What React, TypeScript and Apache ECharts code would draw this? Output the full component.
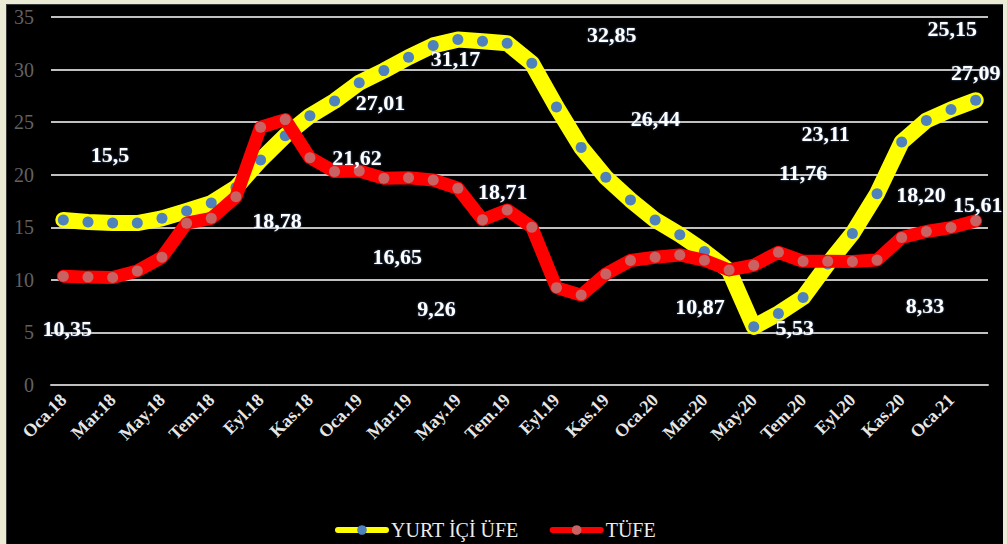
import React, { useEffect, useRef } from "react";
import * as echarts from "echarts";

const categories = [
  "Oca.18", "Şub.18", "Mar.18", "Nis.18", "May.18", "Haz.18", "Tem.18", "Ağu.18", "Eyl.18", "Eki.18", "Kas.18", "Ara.18",
  "Oca.19", "Şub.19", "Mar.19", "Nis.19", "May.19", "Haz.19", "Tem.19", "Ağu.19", "Eyl.19", "Eki.19", "Kas.19", "Ara.19",
  "Oca.20", "Şub.20", "Mar.20", "Nis.20", "May.20", "Haz.20", "Tem.20", "Ağu.20", "Eyl.20", "Eki.20", "Kas.20", "Ara.20",
  "Oca.21", "Şub.21",
];

const yurtIciUfe = [
  15.7, 15.5, 15.4, 15.4, 15.85, 16.55, 17.3, 18.78, 21.4, 23.7, 25.6, 27.01,
  28.75, 29.9, 31.17, 32.3, 32.85, 32.7, 32.5, 30.6, 26.44, 22.6, 19.75, 17.6,
  15.7, 14.3, 12.7, 10.87, 5.53, 6.8, 8.33, 11.5, 14.4, 18.2, 23.11, 25.15,
  26.2, 27.09,
];

const tufe = [
  10.35, 10.26, 10.23, 10.85, 12.15, 15.39, 15.85, 17.9, 24.52, 25.24, 21.62, 20.3,
  20.35, 19.67, 19.71, 19.5, 18.71, 15.72, 16.65, 15.01, 9.26, 8.55, 10.56, 11.84,
  12.15, 12.37, 11.86, 10.94, 11.39, 12.62, 11.76, 11.77, 11.75, 11.89, 14.03, 14.6,
  14.97, 15.61,
];

const yTicks = [0, 5, 10, 15, 20, 25, 30, 35];

// labelled points: index -> displayed text
const ufeLabelText: Record<number, string> = {
  1: "15,5", 7: "18,78", 11: "27,01", 14: "31,17", 16: "32,85", 20: "26,44",
  27: "10,87", 28: "5,53", 30: "8,33", 33: "18,20", 34: "23,11", 35: "25,15", 37: "27,09",
};
const tufeLabelText: Record<number, string> = {
  0: "10,35", 10: "21,62", 16: "18,71", 18: "16,65", 20: "9,26", 30: "11,76", 37: "15,61",
};

// label placement (style): offset of label centre from its point, px
const ufeLabelOffset: Record<number, [number, number]> = {
  1: [22, -68], 7: [41, 33], 11: [46, 1], 14: [47, 1], 16: [154, -5], 20: [99, 11],
  27: [-29, 36], 28: [41, 1], 30: [122, 8], 33: [44, 1], 34: [-76, -9], 35: [26, -92], 37: [0, -28],
};
const tufeLabelOffset: Record<number, [number, number]> = {
  0: [4, 52], 10: [47, 0], 16: [45, 3], 18: [-110, 47], 20: [-120, 21], 30: [0, -89], 37: [2, -16],
};

const SERIF = "Liberation Serif";

const labelFont = {
  color: "#ffffff",
  fontFamily: SERIF,
  fontWeight: "bold" as const,
  fontSize: 22,
  textShadowColor: "rgba(90,140,210,0.7)",
  textShadowBlur: 2,
};

function buildData(values: number[], texts: Record<number, string>, offsets: Record<number, [number, number]>) {
  return values.map((v, i) => {
    if (texts[i] === undefined) return { value: v };
    return {
      value: v,
      label: {
        show: true,
        position: "inside",
        offset: offsets[i],
        formatter: texts[i],
        ...labelFont,
      },
    };
  });
}

export default function App() {
  const ref = useRef<HTMLDivElement>(null);

  useEffect(() => {
    document.body.style.margin = "0";
    if (!ref.current) return;
    const chart = echarts.init(ref.current, undefined, { renderer: "svg" });
    chart.setOption({
      animation: false,
      backgroundColor: "transparent",
      textStyle: { fontFamily: SERIF },
      grid: { left: 51, right: 19, top: 17, bottom: 159, containLabel: false },
      legend: {
        left: 330,
        top: 515,
        itemWidth: 48,
        itemHeight: 12,
        itemGap: 31,
        lineStyle: { width: 6 },
        textStyle: { color: "#ececec", fontSize: 20, fontFamily: SERIF },
        data: ["YURT İÇİ ÜFE", "TÜFE"],
      },
      xAxis: {
        type: "category",
        data: categories,
        boundaryGap: true,
        axisLine: { lineStyle: { color: "#bfbfbf", width: 2 } },
        axisTick: { interval: 1, length: 7, lineStyle: { color: "#bfbfbf", width: 2 } },
        axisLabel: {
          interval: 1,
          rotate: 45,
          margin: 12,
          color: "#e6e6e6",
          fontSize: 18,
          fontWeight: "bold",
          fontFamily: SERIF,
        },
        splitLine: { show: false },
      },
      yAxis: {
        type: "value",
        min: yTicks[0],
        max: yTicks[yTicks.length - 1],
        interval: 5,
        axisLine: { show: false },
        axisTick: { show: false },
        axisLabel: { color: "#626262", fontSize: 20, fontFamily: SERIF, margin: 17 },
        splitLine: { lineStyle: { color: "#c0c0c0", width: 2 } },
      },
      series: [
        {
          name: "YURT İÇİ ÜFE",
          type: "line",
          data: buildData(yurtIciUfe, ufeLabelText, ufeLabelOffset),
          symbol: "circle",
          symbolSize: 11,
          itemStyle: { color: "#4f81bd", borderWidth: 0 },
          lineStyle: { color: "#ffff00", width: 16, cap: "round", join: "round" },
          label: { show: false },
          z: 2,
        },
        {
          name: "TÜFE",
          type: "line",
          data: buildData(tufe, tufeLabelText, tufeLabelOffset),
          symbol: "circle",
          symbolSize: 11,
          itemStyle: { color: "#c96262", borderWidth: 0 },
          lineStyle: { color: "#ff0000", width: 13, cap: "round", join: "round" },
          label: { show: false },
          z: 3,
        },
      ],
    });
    return () => chart.dispose();
  }, []);

  return (
    <div style={{ position: "fixed", left: 0, top: 0, width: 1007, height: 544, background: "#ebebd5", overflow: "hidden" }}>
      <div style={{ position: "absolute", left: 6, top: 4, width: 997, height: 540, background: "#000", borderLeft: "1px solid #3a3a3a", borderTop: "1px solid #3a3a3a", boxSizing: "border-box" }} />
      <div ref={ref} style={{ position: "absolute", left: 0, top: 0, width: 1007, height: 544 }} />
    </div>
  );
}
